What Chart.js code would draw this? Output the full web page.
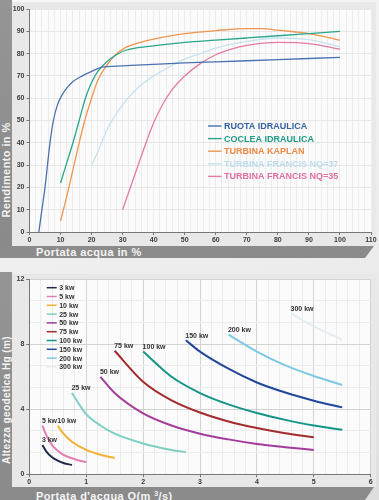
<!DOCTYPE html>
<html>
<head>
<meta charset="utf-8">
<script src="https://cdn.jsdelivr.net/npm/chart.js@4"></script>
<style>
    body { margin: 0; width: 379px; height: 500px; position: relative; overflow: hidden;
           background: linear-gradient(160deg, #f6f6f6 0%, #ececec 60%, #dedede 100%);
           font-family: 'Liberation Sans', Arial, sans-serif; }
    .panel { position: absolute; background: #e8e8e8; }
    .bar { position: absolute; background: linear-gradient(#959595, #8a8a8a); }
    .band { position: absolute; background: #8b8b8b;
            clip-path: polygon(0 0, 100% 0, calc(100% - 9px) 100%, 0 100%); }
    .title { position: absolute; color: #f4f4f4; font-weight: bold; white-space: nowrap; letter-spacing: 0.4px; }
    .ytitle { transform: translate(-50%, -50%) rotate(-90deg); }
    canvas { position: absolute; left: 0; }
</style>
</head>
<body>

<div class="panel" style="left:12px; top:2px; width:364px; height:244px;"></div>
<div class="bar" style="left:0; top:0; width:12px; height:246px;"></div>
<div class="band" style="left:0; top:246px; width:374px; height:12px;"></div>
<div class="title" style="left:36px; top:246px; line-height:12px; font-size:11px;">Portata acqua in %</div>
<div class="title ytitle" style="left:6px; top:170px; font-size:11px;">Rendimento in %</div>

<div class="panel" style="left:12px; top:274px; width:364px; height:213px;"></div>
<div class="bar" style="left:0; top:272px; width:12px; height:228px;"></div>
<div class="band" style="left:0; top:487px; width:374px; height:13px;"></div>
<div class="title" style="left:36px; top:487px; line-height:13px; font-size:11px;">Portata d'acqua Q(m <sup style="font-size:7px; vertical-align:4px;">3</sup>/s)</div>
<div class="title ytitle" style="left:6px; top:400px; font-size:10px;">Altezza geodetica Hg (m)</div>

<canvas id="effChart" width="379" height="245" style="top:0;"></canvas>
<canvas id="headChart" width="379" height="237" style="top:250px;"></canvas>

<script>
// --- rendimento vs portata (%) ---
const ruotaX = [3, 4, 5, 6.6, 7.7, 9, 10.5, 12, 14, 17, 20, 23, 30, 40, 50, 60, 70, 80, 90, 100];
const ruotaY = [0, 10, 20, 40, 50, 57, 61.5, 64.5, 67.5, 70, 72, 73.8, 74.5, 75.2, 75.8, 76.3, 76.8, 77.3, 77.8, 78.3];
const cocleaX = [10, 12, 14, 16, 18, 20, 22, 25, 28, 31, 35, 40, 50, 60, 70, 80, 90, 100];
const cocleaY = [22, 31, 40, 50, 60, 67, 72, 76.5, 79.5, 81.5, 82.7, 83.5, 85, 86, 87, 88, 89, 90];
const kaplanX = [10, 12, 14, 16, 18, 20, 22, 25, 28, 31, 35, 40, 50, 60, 70, 75, 80, 85, 90, 95, 100];
const kaplanY = [5, 16, 28, 40, 51, 60, 68, 75, 79.8, 82.8, 84.8, 86.5, 89, 90.3, 91.2, 91.2, 90.5, 89.8, 89, 87.6, 86];
const francis37X = [20, 22, 25, 27, 30, 33, 36, 40, 45, 50, 55, 60, 70, 80, 90, 100];
const francis37Y = [30, 36, 46, 51, 57, 62, 66, 70, 74, 77.5, 80, 82.5, 85.5, 87, 86.3, 83];
const francis35X = [30, 33, 36, 40, 43, 46, 50, 55, 60, 65, 70, 80, 90, 100];
const francis35Y = [10, 22, 34, 49, 57.5, 64, 70, 75.5, 79.5, 82, 83.7, 85, 84.5, 82];

const effNames = ['RUOTA IDRAULICA', 'COCLEA IDRAULICA', 'TURBINA KAPLAN', 'TURBINA FRANCIS NQ=37', 'TURBINA FRANCIS NQ=35'];
const effColors = ['#4a72b0', '#2aa58c', '#f0954c', '#c5e2ef', '#e57aa6'];
const effTextColors = ['#3562a5', '#1f9c84', '#ee8a44', '#bcdcec', '#df6fa0'];

// --- altezza vs portata (m3/s) per potenza ---
const kw3X = [0.23, 0.3, 0.4, 0.5, 0.6, 0.75];
const kw3Y = [1.8, 1.4, 1.05, 0.84, 0.7, 0.57];
const kw5X = [0.23, 0.3, 0.4, 0.5, 0.6, 0.8, 1.0];
const kw5Y = [3.0, 2.4, 1.8, 1.45, 1.2, 0.93, 0.75];
const kw10X = [0.5, 0.6, 0.75, 1.0, 1.25, 1.5];
const kw10Y = [3.0, 2.5, 2.0, 1.5, 1.2, 1.0];
const kw25X = [0.75, 1.0, 1.25, 1.5, 2.0, 2.5, 2.75];
const kw25Y = [5.0, 3.7, 3.0, 2.5, 1.9, 1.5, 1.37];
const kw50X = [1.25, 1.5, 2.0, 2.5, 3.0, 3.5, 4.0, 4.5, 5.0];
const kw50Y = [6.0, 5.0, 3.75, 3.0, 2.5, 2.15, 1.87, 1.67, 1.5];
const kw75X = [1.5, 2.0, 2.5, 3.0, 3.5, 4.0, 4.5, 5.0];
const kw75Y = [7.6, 5.7, 4.55, 3.8, 3.25, 2.85, 2.53, 2.28];
const kw100X = [2.0, 2.5, 3.0, 3.5, 4.0, 4.5, 5.0, 5.5];
const kw100Y = [7.55, 6.0, 5.0, 4.3, 3.77, 3.35, 3.0, 2.74];
const kw150X = [2.75, 3.0, 3.5, 4.0, 4.5, 5.0, 5.5];
const kw150Y = [8.25, 7.55, 6.5, 5.65, 5.03, 4.53, 4.12];
const kw200X = [3.5, 4.0, 4.5, 5.0, 5.5];
const kw200Y = [8.6, 7.55, 6.7, 6.05, 5.5];
const kw300X = [4.6, 5.0, 5.5];
const kw300Y = [9.9, 9.1, 8.27];

const powerNames = ['3 kw', '5 kw', '10 kw', '25 kw', '50 kw', '75 kw', '100 kw', '150 kw', '200 kw', '300 kw'];
const powerColors = ['#1e2a48', '#e27fb5', '#f2b134', '#7dcfc6', '#a43c9c', '#a32b2e', '#159488', '#23479a', '#7cc9e2', '#e2edf0'];
const powerX = [kw3X, kw5X, kw10X, kw25X, kw50X, kw75X, kw100X, kw150X, kw200X, kw300X];
const powerY = [kw3Y, kw5Y, kw10Y, kw25Y, kw50Y, kw75Y, kw100Y, kw150Y, kw200Y, kw300Y];

const effX = [ruotaX, cocleaX, kaplanX, francis37X, francis35X];
const effY = [ruotaY, cocleaY, kaplanY, francis37Y, francis35Y];

const FONT = "'Liberation Sans', Arial, sans-serif";
Chart.defaults.font.family = FONT;
Chart.defaults.font.size = 7;
Chart.defaults.font.weight = 'bold';
Chart.defaults.color = '#3a3a3a';

function toPoints(xs, ys) {
    return xs.map((x, i) => ({ x: x, y: ys[i] }));
}

const plotBg = {
    id: 'plotBg',
    beforeDraw(chart) {
        const a = chart.chartArea;
        chart.ctx.save();
        chart.ctx.fillStyle = '#fbfbfb';
        chart.ctx.fillRect(a.left, a.top, a.right - a.left, a.bottom - a.top);
        chart.ctx.restore();
    }
};

// legend drawn at fixed spot inside the plot
const legendBox = {
    id: 'legendBox',
    afterDatasetsDraw(chart, args, opts) {
        const ctx = chart.ctx;
        ctx.save();
        ctx.font = opts.font;
        ctx.textBaseline = 'middle';
        chart.data.datasets.forEach((ds, i) => {
            const y = opts.y + i * opts.gap;
            ctx.strokeStyle = ds.borderColor;
            ctx.lineWidth = opts.lineWidth;
            ctx.beginPath();
            ctx.moveTo(opts.x, y);
            ctx.lineTo(opts.x + opts.len, y);
            ctx.stroke();
            ctx.fillStyle = opts.textColors ? opts.textColors[i] : opts.color;
            ctx.fillText(ds.label, opts.x + opts.len + 2.5, y + 0.5);
        });
        ctx.restore();
    }
};

// "xx kw" next to the start of each curve
const curveLabels = {
    id: 'curveLabels',
    afterDatasetsDraw(chart) {
        const ctx = chart.ctx;
        ctx.save();
        ctx.font = 'bold 7px ' + FONT;
        ctx.fillStyle = '#333';
        ctx.textBaseline = 'middle';
        chart.data.datasets.forEach((ds, i) => {
            const p = chart.getDatasetMeta(i).data[0];
            ctx.fillText(ds.label, p.x - 0.5, p.y - 4.5);
        });
        ctx.restore();
    }
};

new Chart(document.getElementById('effChart').getContext('2d'), {
    type: 'line',
    data: {
        datasets: effNames.map((name, i) => ({
            label: name,
            data: toPoints(effX[i], effY[i]),
            borderColor: effColors[i],
            borderWidth: 1.3,
            pointRadius: 0,
            cubicInterpolationMode: 'monotone',
            fill: false
        }))
    },
    options: {
        responsive: false,
        animation: false,
        layout: { padding: { top: 9, right: 8, left: 0, bottom: 0 } },
        plugins: {
            legend: { display: false },
            tooltip: { enabled: false },
            legendBox: { x: 208, y: 126, gap: 12.6, len: 13.5, lineWidth: 1.4,
                         font: 'bold 9px ' + FONT, textColors: effTextColors }
        },
        scales: {
            x: {
                type: 'linear', min: 0, max: 110,
                afterFit: s => { s.height = 13; },
                ticks: { stepSize: 2, autoSkip: false, maxRotation: 0, padding: 1,
                         callback: v => v % 10 === 0 ? v : '' },
                grid: { color: '#ececec', lineWidth: 1, tickLength: 3,
                        tickColor: c => (c.tick && c.tick.value % 10 === 0) ? '#777' : 'rgba(0,0,0,0)' },
                border: { color: '#777' }
            },
            y: {
                min: 0, max: 100,
                afterFit: s => { s.width = 29.5; },
                ticks: { stepSize: 10, padding: 2 },
                grid: { color: '#e6e6e6', tickLength: 3, tickColor: '#777' },
                border: { color: '#777' }
            }
        }
    },
    plugins: [plotBg, legendBox]
});

const yGrid = [];
for (let i = 0; i <= 18; i++) yGrid.push(i * 2 / 3);
const isMajorY = v => Math.abs(v - Math.round(v)) < 1e-6 && Math.round(v) % 2 === 0;
const isMajorX = v => Math.abs(v - Math.round(v)) < 1e-6;

new Chart(document.getElementById('headChart').getContext('2d'), {
    type: 'line',
    data: {
        datasets: powerNames.map((name, i) => ({
            label: name,
            data: toPoints(powerX[i], powerY[i]),
            borderColor: powerColors[i],
            borderWidth: 2,
            pointRadius: 0,
            cubicInterpolationMode: 'monotone',
            fill: false
        }))
    },
    options: {
        responsive: false,
        animation: false,
        layout: { padding: { top: 29.3, right: 8.3, left: 0, bottom: 0 } },
        plugins: {
            legend: { display: false },
            tooltip: { enabled: false },
            legendBox: { x: 46.7, y: 37.7, gap: 8.8, len: 10, lineWidth: 1.5,
                         font: 'bold 7px ' + FONT, color: '#333' }
        },
        scales: {
            x: {
                type: 'linear', min: 0, max: 6,
                afterFit: s => { s.height = 12.7; },
                ticks: { stepSize: 0.2, autoSkip: false, maxRotation: 0, padding: 1,
                         callback: v => isMajorX(v) ? Math.round(v) : '' },
                grid: { tickLength: 3,
                        color: c => (c.tick && isMajorX(c.tick.value)) ? '#d2d2d2' : '#ececec',
                        tickColor: c => (c.tick && isMajorX(c.tick.value)) ? '#777' : 'rgba(0,0,0,0)' },
                border: { color: '#777' }
            },
            y: {
                min: 0, max: 12,
                afterFit: s => { s.width = 29.3; },
                afterBuildTicks: s => { s.ticks = yGrid.map(v => ({ value: v })); },
                ticks: { padding: 2, callback: v => isMajorY(v) ? Math.round(v) : '' },
                grid: { tickLength: 3,
                        color: c => (c.tick && isMajorY(c.tick.value)) ? '#d2d2d2' : '#ececec',
                        tickColor: c => (c.tick && isMajorY(c.tick.value)) ? '#777' : 'rgba(0,0,0,0)' },
                border: { color: '#777' }
            }
        }
    },
    plugins: [plotBg, legendBox, curveLabels]
});
</script>
</body>
</html>
